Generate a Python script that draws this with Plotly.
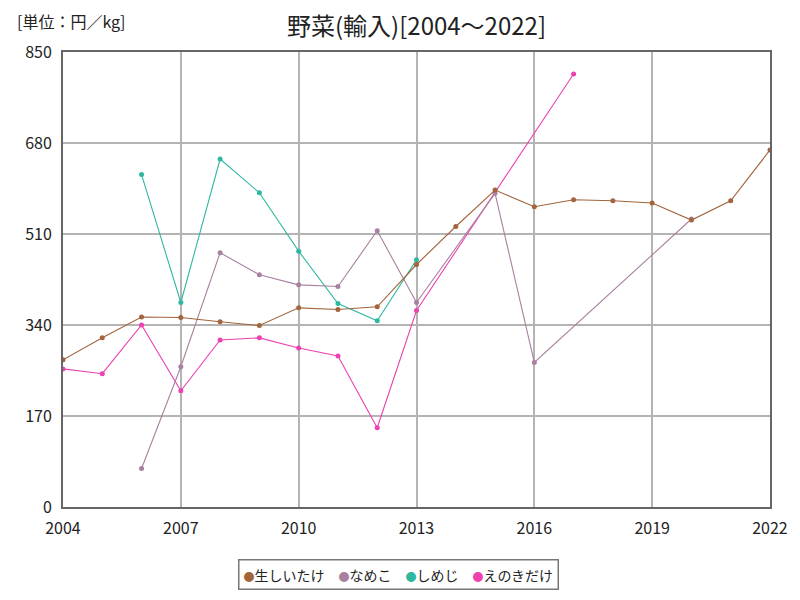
import plotly.graph_objects as go

# ==============================================================================
# DATA
# ==============================================================================
years_shiitake = list(range(2004, 2023))
shiitake = [275, 316, 355, 354, 346, 339, 372, 369, 374, 453,
            524, 592, 561, 574, 572, 568, 536, 572, 667]

years_nameko = [2006, 2007, 2008, 2009, 2010, 2011, 2012, 2013, 2015, 2016, 2020]
nameko = [72, 262, 475, 434, 415, 412, 516, 382, 586, 270, 538]

years_shimeji = [2006, 2007, 2008, 2009, 2010, 2011, 2012, 2013]
shimeji = [621, 382, 650, 587, 478, 380, 348, 462]

years_enoki = [2004, 2005, 2006, 2007, 2008, 2009, 2010, 2011, 2012, 2013, 2017]
enoki = [258, 249, 340, 217, 312, 316, 297, 282, 148, 367, 809]

x_ticks = [2004, 2007, 2010, 2013, 2016, 2019, 2022]
y_ticks = [0, 170, 340, 510, 680, 850]

series = [
    ("生しいたけ", years_shiitake, shiitake, "#a2653c"),
    ("なめこ", years_nameko, nameko, "#a9809f"),
    ("しめじ", years_shimeji, shimeji, "#2fb8a0"),
    ("えのきだけ", years_enoki, enoki, "#ec42b0"),
]

FONT = "Noto Sans CJK JP"

fig = go.Figure()

# draw in reverse so 生しいたけ sits on top
for name, xs, ys, color in reversed(series):
    fig.add_trace(go.Scatter(
        x=xs, y=ys, name=name, mode="lines+markers",
        line=dict(color=color, width=1.1),
        marker=dict(color=color, size=5),
        showlegend=False,
    ))

# page body has an 8px margin, so the figure is sized/offset to compensate
fig.update_layout(
    width=792, height=592,
    plot_bgcolor="white", paper_bgcolor="white",
    font=dict(family=FONT, size=14, color="#222"),
    margin=dict(l=55, r=28, t=44, b=93),
    title=dict(text="野菜(輸入)[2004～2022]", x=0.5, xref="paper", xanchor="center",
               y=0.968, yanchor="middle", font=dict(size=24, color="#222")),
    showlegend=False,
    xaxis=dict(range=[2004, 2022], tickvals=x_ticks, showgrid=True,
               gridcolor="#b4b4b4", gridwidth=1.5, zeroline=False,
               showline=True, linecolor="#666", linewidth=2, mirror=True,
               ticks="", tickfont=dict(size=16), ticklabelstandoff=6),
    yaxis=dict(range=[0, 850], tickvals=y_ticks, showgrid=True,
               gridcolor="#b4b4b4", gridwidth=1.5, zeroline=False,
               showline=True, linecolor="#666", linewidth=2, mirror=True,
               ticks="", tickfont=dict(size=16), ticklabelstandoff=6),
)

# legend box: small coloured dot + name, compact like the original
legend_text = "\u2003".join(
    f"<span style='color:{color};font-size:11px'>●</span>{name}"
    for name, _, _, color in series
)
fig.add_annotation(text=legend_text, xref="paper", yref="paper",
                   x=0.474, y=-0.149, xanchor="center", yanchor="middle",
                   showarrow=False, font=dict(size=14, color="#222"),
                   bordercolor="#777", borderwidth=1.5, borderpad=4,
                   bgcolor="white")

fig.add_annotation(text="[単位：円／kg]", xref="paper", yref="paper",
                   x=-0.068, y=1.068, xanchor="left", yanchor="middle",
                   showarrow=False, font=dict(size=16, color="#222"))

fig.write_html("out.html")
